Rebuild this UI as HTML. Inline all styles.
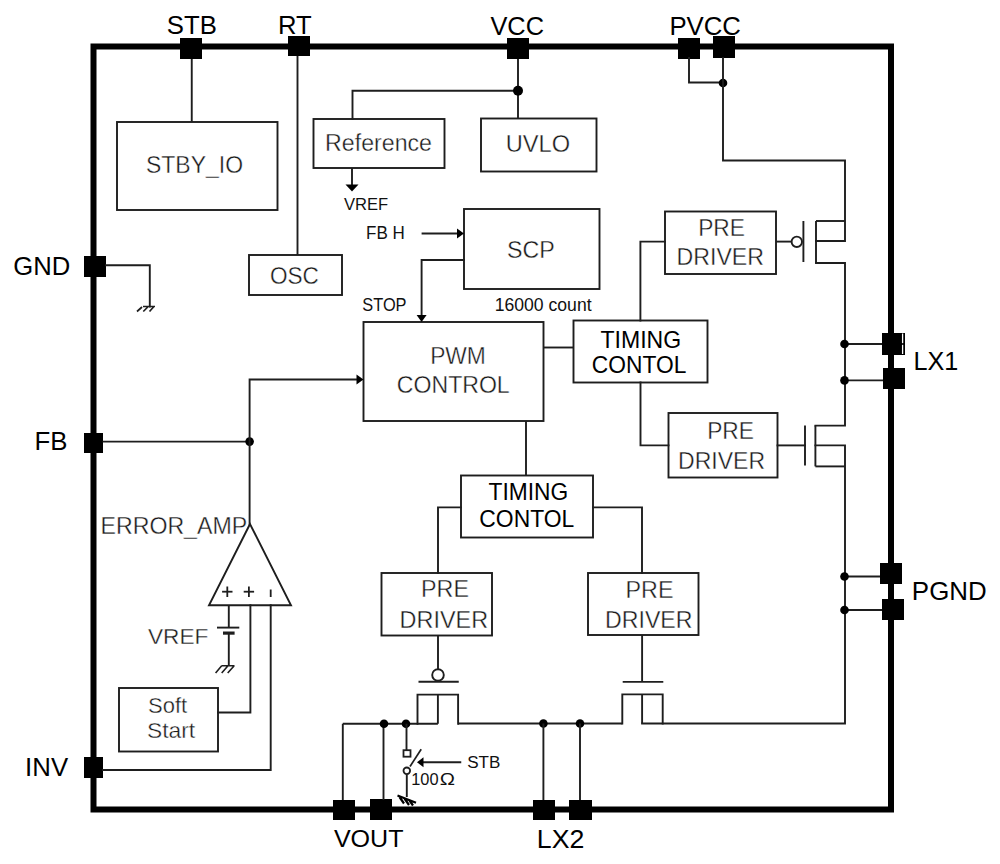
<!DOCTYPE html>
<html><head><meta charset="utf-8"><style>
html,body{margin:0;padding:0;background:#fff;}
svg{display:block;}
text{font-family:"Liberation Sans",sans-serif;}
</style></head><body>
<svg width="1000" height="864" viewBox="0 0 1000 864">
<rect width="1000" height="864" fill="#fff"/>
<rect x="93.5" y="46.5" width="797.5" height="763" fill="none" stroke="#000" stroke-width="6"/>
<rect x="180" y="38" width="22" height="21" fill="#000"/>
<rect x="288" y="36" width="22" height="20" fill="#000"/>
<rect x="507" y="38" width="22" height="21" fill="#000"/>
<rect x="678" y="38" width="22" height="21" fill="#000"/>
<rect x="713" y="36" width="22" height="22" fill="#000"/>
<rect x="84" y="256" width="22" height="21" fill="#000"/>
<rect x="84" y="433" width="19" height="20" fill="#000"/>
<rect x="84" y="757" width="19" height="21" fill="#000"/>
<rect x="882" y="333" width="23" height="22" fill="#000"/>
<rect x="883" y="368" width="22" height="21" fill="#000"/>
<rect x="880" y="563" width="22" height="21" fill="#000"/>
<rect x="882" y="599" width="22" height="21" fill="#000"/>
<rect x="333" y="800" width="22" height="20" fill="#000"/>
<rect x="370" y="799" width="22" height="21" fill="#000"/>
<rect x="533" y="800" width="22" height="20" fill="#000"/>
<rect x="569" y="800" width="23" height="20" fill="#000"/>
<line x1="902.6" y1="333.5" x2="902.6" y2="343.2" stroke="#fff" stroke-width="1.3"/>
<line x1="902.6" y1="344.8" x2="902.6" y2="354" stroke="#fff" stroke-width="1.3"/>
<text transform="translate(166.83,34) scale(1.0112,1)" font-size="25.44" fill="#000" font-weight="normal">STB</text>
<text transform="translate(277.90,33.5) scale(1.0084,1)" font-size="25.44" fill="#000" font-weight="normal">RT</text>
<text transform="translate(490.39,34.5) scale(0.9977,1)" font-size="25.44" fill="#000" font-weight="normal">VCC</text>
<text transform="translate(669.39,34.5) scale(1.0131,1)" font-size="25.44" fill="#000" font-weight="normal">PVCC</text>
<text transform="translate(13.21,275) scale(1.0088,1)" font-size="25.44" fill="#000" font-weight="normal">GND</text>
<text transform="translate(34.38,450) scale(1.0146,1)" font-size="25.44" fill="#000" font-weight="normal">FB</text>
<text transform="translate(25.12,776) scale(1.0140,1)" font-size="25.44" fill="#000" font-weight="normal">INV</text>
<text transform="translate(913.43,370) scale(0.9898,1)" font-size="25.44" fill="#000" font-weight="normal">LX1</text>
<text transform="translate(911.87,600) scale(1.0187,1)" font-size="25.44" fill="#000" font-weight="normal">PGND</text>
<text transform="translate(333.89,847) scale(1.0153,1)" font-size="24.71" fill="#000" font-weight="normal">VOUT</text>
<text transform="translate(536.81,848) scale(1.0503,1)" font-size="25.44" fill="#000" font-weight="normal">LX2</text>
<rect x="117" y="122" width="160.5" height="88" fill="none" stroke="#1e1e1e" stroke-width="1.9"/>
<rect x="249" y="255" width="93" height="40" fill="none" stroke="#1e1e1e" stroke-width="1.9"/>
<rect x="313.5" y="119" width="131.0" height="49" fill="none" stroke="#1e1e1e" stroke-width="1.9"/>
<rect x="481" y="118.5" width="115.5" height="53.0" fill="none" stroke="#1e1e1e" stroke-width="1.9"/>
<rect x="464" y="209" width="135.5" height="80" fill="none" stroke="#1e1e1e" stroke-width="1.9"/>
<rect x="363.5" y="322" width="180.0" height="99" fill="none" stroke="#1e1e1e" stroke-width="1.9"/>
<rect x="573.5" y="320.5" width="134.0" height="62.0" fill="none" stroke="#1e1e1e" stroke-width="1.9"/>
<rect x="665" y="211.5" width="111" height="62.5" fill="none" stroke="#1e1e1e" stroke-width="1.9"/>
<rect x="668.5" y="413" width="109.0" height="64.5" fill="none" stroke="#1e1e1e" stroke-width="1.9"/>
<rect x="461" y="475.5" width="132" height="62.0" fill="none" stroke="#1e1e1e" stroke-width="1.9"/>
<rect x="381.5" y="573" width="110.5" height="62.5" fill="none" stroke="#1e1e1e" stroke-width="1.9"/>
<rect x="588" y="573" width="110.5" height="62" fill="none" stroke="#1e1e1e" stroke-width="1.9"/>
<rect x="119" y="688" width="99" height="63.5" fill="none" stroke="#1e1e1e" stroke-width="1.9"/>
<text transform="translate(145.96,172.5) scale(0.9890,1)" font-size="23.26" fill="#1a1a1a" font-weight="normal" stroke="#fff" stroke-width="0.35">STBY_IO</text>
<text transform="translate(269.93,283.5) scale(0.9709,1)" font-size="23.26" fill="#1a1a1a" font-weight="normal" stroke="#fff" stroke-width="0.35">OSC</text>
<text transform="translate(325.10,150.5) scale(0.9664,1)" font-size="23.98" fill="#1a1a1a" font-weight="normal" stroke="#fff" stroke-width="0.35">Reference</text>
<text transform="translate(505.67,152) scale(0.9870,1)" font-size="23.98" fill="#1a1a1a" font-weight="normal" stroke="#fff" stroke-width="0.35">UVLO</text>
<text transform="translate(506.94,257.5) scale(0.9405,1)" font-size="24.71" fill="#1a1a1a" font-weight="normal" stroke="#fff" stroke-width="0.35">SCP</text>
<text transform="translate(430.13,363.5) scale(0.9808,1)" font-size="23.26" fill="#1a1a1a" font-weight="normal" stroke="#fff" stroke-width="0.35">PWM</text>
<text transform="translate(396.83,393) scale(0.9632,1)" font-size="23.98" fill="#1a1a1a" font-weight="normal" stroke="#fff" stroke-width="0.35">CONTROL</text>
<text transform="translate(698.13,235.5) scale(0.9797,1)" font-size="23.26" fill="#1a1a1a" font-weight="normal" stroke="#fff" stroke-width="0.35">PRE</text>
<text transform="translate(676.60,265) scale(0.9955,1)" font-size="23.26" fill="#1a1a1a" font-weight="normal" stroke="#fff" stroke-width="0.35">DRIVER</text>
<text transform="translate(707.13,438.5) scale(0.9797,1)" font-size="23.26" fill="#1a1a1a" font-weight="normal" stroke="#fff" stroke-width="0.35">PRE</text>
<text transform="translate(678.11,468.5) scale(0.9896,1)" font-size="23.26" fill="#1a1a1a" font-weight="normal" stroke="#fff" stroke-width="0.35">DRIVER</text>
<text transform="translate(625.59,597.5) scale(1.0020,1)" font-size="23.26" fill="#1a1a1a" font-weight="normal" stroke="#fff" stroke-width="0.35">PRE</text>
<text transform="translate(605.10,628) scale(0.9955,1)" font-size="23.26" fill="#1a1a1a" font-weight="normal" stroke="#fff" stroke-width="0.35">DRIVER</text>
<text transform="translate(421.09,597) scale(1.0020,1)" font-size="23.26" fill="#1a1a1a" font-weight="normal" stroke="#fff" stroke-width="0.35">PRE</text>
<text transform="translate(399.58,628) scale(1.0073,1)" font-size="23.26" fill="#1a1a1a" font-weight="normal" stroke="#fff" stroke-width="0.35">DRIVER</text>
<text transform="translate(148.00,713) scale(0.9772,1)" font-size="22.53" fill="#1a1a1a" font-weight="normal" stroke="#fff" stroke-width="0.35">Soft</text>
<text transform="translate(146.96,738) scale(1.0132,1)" font-size="22.53" fill="#1a1a1a" font-weight="normal" stroke="#fff" stroke-width="0.35">Start</text>
<text transform="translate(100.60,534) scale(0.9651,1)" font-size="23.98" fill="#1a1a1a" font-weight="normal" stroke="#fff" stroke-width="0.35">ERROR_AMP</text>
<text transform="translate(147.90,643.5) scale(1.0070,1)" font-size="22.53" fill="#1a1a1a" font-weight="normal" stroke="#fff" stroke-width="0.35">VREF</text>
<text transform="translate(600.48,347.5) scale(0.9620,1)" font-size="23.98" fill="#000" font-weight="normal">TIMING</text>
<text transform="translate(591.84,373) scale(0.9497,1)" font-size="23.98" fill="#000" font-weight="normal">CONTOL</text>
<text transform="translate(488.49,499.5) scale(0.9498,1)" font-size="23.98" fill="#000" font-weight="normal">TIMING</text>
<text transform="translate(479.34,527) scale(0.9549,1)" font-size="23.98" fill="#000" font-weight="normal">CONTOL</text>
<text transform="translate(343.93,209.5) scale(0.9923,1)" font-size="16.72" fill="#111" font-weight="normal">VREF</text>
<text transform="translate(366.10,239) scale(0.9762,1)" font-size="17.44" fill="#111" font-weight="normal">FB H</text>
<text transform="translate(362.26,310.5) scale(0.9393,1)" font-size="17.44" fill="#111" font-weight="normal">STOP</text>
<text transform="translate(494.66,310.5) scale(1.0100,1)" font-size="17.44" fill="#111" font-weight="normal">16000 count</text>
<text transform="translate(467.23,768) scale(1.0669,1)" font-size="15.99" fill="#111" font-weight="normal">STB</text>
<text transform="translate(411.25,785) scale(1.0268,1)" font-size="15.99" fill="#111" font-weight="normal">100</text>
<text transform="translate(439.63,785) scale(1.2753,1)" font-size="15.99" fill="#111" font-weight="normal">Ω</text>
<line x1="191.75" y1="59" x2="191.75" y2="122" stroke="#1e1e1e" stroke-width="1.9"/>
<line x1="297.5" y1="56" x2="297.5" y2="255" stroke="#1e1e1e" stroke-width="1.9"/>
<line x1="518" y1="59" x2="518" y2="118.5" stroke="#1e1e1e" stroke-width="1.9"/>
<polyline points="352.5,119 352.5,90.7 518,90.7" fill="none" stroke="#1e1e1e" stroke-width="1.9" stroke-linejoin="miter" stroke-linecap="square"/>
<circle cx="518" cy="90.7" r="5" fill="#000"/>
<line x1="352" y1="168" x2="352" y2="186" stroke="#1e1e1e" stroke-width="1.9"/>
<polygon points="352,191.5 345.5,184.5 358.5,184.5" fill="#000"/>
<polyline points="689,58 689,82.5 723,82.5" fill="none" stroke="#1e1e1e" stroke-width="1.9" stroke-linejoin="miter" stroke-linecap="square"/>
<circle cx="723" cy="83" r="4.3" fill="#000"/>
<polyline points="723,58 723,160.5 845,160.5 845,241 816,241" fill="none" stroke="#1e1e1e" stroke-width="1.9" stroke-linejoin="miter" stroke-linecap="square"/>
<line x1="776" y1="241.6" x2="791.5" y2="241.6" stroke="#1e1e1e" stroke-width="1.9"/>
<circle cx="796.8" cy="241.8" r="5.2" fill="none" stroke="#1e1e1e" stroke-width="1.9"/>
<line x1="803.4" y1="221" x2="803.4" y2="262" stroke="#1e1e1e" stroke-width="1.9"/>
<line x1="816" y1="221" x2="816" y2="263" stroke="#1e1e1e" stroke-width="1.9"/>
<line x1="816" y1="221" x2="845" y2="221" stroke="#1e1e1e" stroke-width="1.9"/>
<polyline points="816,263 845,263 845,425.6 815.4,425.6" fill="none" stroke="#1e1e1e" stroke-width="1.9" stroke-linejoin="miter" stroke-linecap="square"/>
<line x1="844.5" y1="344" x2="882" y2="344" stroke="#1e1e1e" stroke-width="1.9"/>
<circle cx="844.5" cy="344" r="4.3" fill="#000"/>
<line x1="844.5" y1="380.4" x2="883" y2="380.4" stroke="#1e1e1e" stroke-width="1.9"/>
<circle cx="844.5" cy="380.4" r="4.3" fill="#000"/>
<line x1="815.4" y1="425.6" x2="815.4" y2="466.4" stroke="#1e1e1e" stroke-width="1.9"/>
<polyline points="805,445.4 777.5,445.4" fill="none" stroke="#1e1e1e" stroke-width="1.9" stroke-linejoin="miter" stroke-linecap="square"/>
<line x1="805" y1="425.6" x2="805" y2="465.5" stroke="#1e1e1e" stroke-width="1.9"/>
<polyline points="815.4,445.4 845,445.4 845,723.5 642.1,723.5" fill="none" stroke="#1e1e1e" stroke-width="1.9" stroke-linejoin="miter" stroke-linecap="square"/>
<line x1="815.4" y1="466.4" x2="845" y2="466.4" stroke="#1e1e1e" stroke-width="1.9"/>
<line x1="844.5" y1="576.5" x2="880" y2="576.5" stroke="#1e1e1e" stroke-width="1.9"/>
<circle cx="844.5" cy="576.5" r="4.3" fill="#000"/>
<line x1="844.5" y1="610" x2="882" y2="610" stroke="#1e1e1e" stroke-width="1.9"/>
<circle cx="844.5" cy="610" r="4.3" fill="#000"/>
<polyline points="622.3,723.5 622.3,694.4 662.7,694.4 662.7,723.5" fill="none" stroke="#1e1e1e" stroke-width="1.9" stroke-linejoin="miter" stroke-linecap="square"/>
<line x1="642.1" y1="694.4" x2="642.1" y2="723.5" stroke="#1e1e1e" stroke-width="1.9"/>
<line x1="622.7" y1="681.9" x2="663.3" y2="681.9" stroke="#1e1e1e" stroke-width="1.9"/>
<line x1="642.1" y1="635" x2="642.1" y2="681.9" stroke="#1e1e1e" stroke-width="1.9"/>
<line x1="458.1" y1="723.5" x2="622.3" y2="723.5" stroke="#1e1e1e" stroke-width="1.9"/>
<circle cx="543.4" cy="723.5" r="4.3" fill="#000"/>
<line x1="543.4" y1="723.5" x2="543.4" y2="800" stroke="#1e1e1e" stroke-width="1.9"/>
<circle cx="580" cy="723.5" r="4.3" fill="#000"/>
<line x1="580" y1="723.5" x2="580" y2="800" stroke="#1e1e1e" stroke-width="1.9"/>
<polyline points="417.5,723.75 417.5,694.6 458.1,694.6 458.1,723.75" fill="none" stroke="#1e1e1e" stroke-width="1.9" stroke-linejoin="miter" stroke-linecap="square"/>
<line x1="437.9" y1="694.6" x2="437.9" y2="723.75" stroke="#1e1e1e" stroke-width="1.9"/>
<line x1="342.8" y1="723.75" x2="437.9" y2="723.75" stroke="#1e1e1e" stroke-width="1.9"/>
<line x1="418.5" y1="681.7" x2="458.75" y2="681.7" stroke="#1e1e1e" stroke-width="1.9"/>
<circle cx="438" cy="675" r="5.8" fill="none" stroke="#1e1e1e" stroke-width="1.9"/>
<line x1="438" y1="635.5" x2="438" y2="669" stroke="#1e1e1e" stroke-width="1.9"/>
<line x1="342.8" y1="723.75" x2="342.8" y2="800" stroke="#1e1e1e" stroke-width="1.9"/>
<line x1="383.5" y1="723.75" x2="383.5" y2="800" stroke="#1e1e1e" stroke-width="1.9"/>
<circle cx="384" cy="723.75" r="4.3" fill="#000"/>
<circle cx="406" cy="723.75" r="4.3" fill="#000"/>
<line x1="406.5" y1="723.75" x2="406.5" y2="750" stroke="#1e1e1e" stroke-width="1.9"/>
<rect x="403.5" y="750.2" width="7" height="6.5" fill="none" stroke="#1e1e1e" stroke-width="1.8"/>
<line x1="410" y1="766.5" x2="421.2" y2="749.3" stroke="#1e1e1e" stroke-width="1.7"/>
<circle cx="406.8" cy="770.8" r="3.3" fill="none" stroke="#1e1e1e" stroke-width="1.8"/>
<line x1="406.8" y1="774.5" x2="406.8" y2="797" stroke="#1e1e1e" stroke-width="1.9"/>
<path d="M397.5,795.5 L416,802.8 M399.5,797 L404,803.5 M404.5,798.5 L409,805 M409.5,800.5 L413,805.5" fill="none" stroke="#000" stroke-width="2.2"/>
<line x1="461.25" y1="762.3" x2="422" y2="762.3" stroke="#1e1e1e" stroke-width="1.9"/>
<polygon points="417,762.3 423.5,757.3 423.5,767.3" fill="#000"/>
<line x1="526" y1="421" x2="526" y2="475.5" stroke="#1e1e1e" stroke-width="1.9"/>
<polyline points="461,507.4 438,507.4 438,573" fill="none" stroke="#1e1e1e" stroke-width="1.9" stroke-linejoin="miter" stroke-linecap="square"/>
<polyline points="593,507.4 642,507.4 642,573" fill="none" stroke="#1e1e1e" stroke-width="1.9" stroke-linejoin="miter" stroke-linecap="square"/>
<polyline points="640.4,320.5 640.4,241.6 665,241.6" fill="none" stroke="#1e1e1e" stroke-width="1.9" stroke-linejoin="miter" stroke-linecap="square"/>
<polyline points="640.5,382.5 640.5,445.4 668.5,445.4" fill="none" stroke="#1e1e1e" stroke-width="1.9" stroke-linejoin="miter" stroke-linecap="square"/>
<line x1="543.5" y1="347.5" x2="573.5" y2="347.5" stroke="#1e1e1e" stroke-width="1.9"/>
<line x1="421.6" y1="233.5" x2="457" y2="233.5" stroke="#1e1e1e" stroke-width="1.9"/>
<polygon points="464,233.5 457,228.5 457,238.5" fill="#000"/>
<polyline points="464,260 421.6,260 421.6,315" fill="none" stroke="#1e1e1e" stroke-width="1.9" stroke-linejoin="miter" stroke-linecap="square"/>
<polygon points="421.6,322 416.6,315 426.6,315" fill="#000"/>
<line x1="102.6" y1="441.6" x2="249.6" y2="441.6" stroke="#1e1e1e" stroke-width="1.9"/>
<circle cx="249.6" cy="441.6" r="4.3" fill="#000"/>
<polyline points="249.6,524 249.6,379.5 356,379.5" fill="none" stroke="#1e1e1e" stroke-width="1.9" stroke-linejoin="miter" stroke-linecap="square"/>
<polygon points="363.5,379.5 356.5,374.5 356.5,384.5" fill="#000"/>
<polygon points="250,524 209,605.3 291,605.3" fill="none" stroke="#1e1e1e" stroke-width="1.9" stroke-linejoin="miter"/>
<line x1="222.10000000000002" y1="591.7" x2="232.5" y2="591.7" stroke="#1e1e1e" stroke-width="1.8"/>
<line x1="227.3" y1="586.5" x2="227.3" y2="597" stroke="#1e1e1e" stroke-width="1.8"/>
<line x1="243.70000000000002" y1="591.7" x2="254.1" y2="591.7" stroke="#1e1e1e" stroke-width="1.8"/>
<line x1="248.9" y1="586.5" x2="248.9" y2="597" stroke="#1e1e1e" stroke-width="1.8"/>
<line x1="270.7" y1="589.5" x2="270.7" y2="597" stroke="#1e1e1e" stroke-width="1.8"/>
<line x1="228.8" y1="605.3" x2="228.8" y2="627.6" stroke="#1e1e1e" stroke-width="1.9"/>
<line x1="217" y1="627.6" x2="239.3" y2="627.6" stroke="#1e1e1e" stroke-width="1.9"/>
<line x1="223" y1="633.1" x2="234.6" y2="633.1" stroke="#1e1e1e" stroke-width="3.2"/>
<line x1="228.8" y1="633.1" x2="228.8" y2="666" stroke="#1e1e1e" stroke-width="1.9"/>
<path d="M221.7,665.7 L234.5,665.7 M221.7,665.7 L215.6,673 M228,665.7 L221.7,673 M234.2,665.7 L227.7,673" fill="none" stroke="#1e1e1e" stroke-width="1.6"/>
<polyline points="250.4,605.3 250.4,712.5 218,712.5" fill="none" stroke="#1e1e1e" stroke-width="1.9" stroke-linejoin="miter" stroke-linecap="square"/>
<polyline points="270.7,605.3 270.7,770 103,770" fill="none" stroke="#1e1e1e" stroke-width="1.9" stroke-linejoin="miter" stroke-linecap="square"/>
<polyline points="106,265.3 149.8,265.3 149.8,306.5" fill="none" stroke="#1e1e1e" stroke-width="1.9" stroke-linejoin="miter" stroke-linecap="square"/>
<path d="M143,306.5 L155,306.5 M142,307 L137,311.5 M147.8,307 L143.3,311.5 M153.5,307 L149.5,311.5" fill="none" stroke="#1e1e1e" stroke-width="1.7"/>
</svg>
</body></html>
